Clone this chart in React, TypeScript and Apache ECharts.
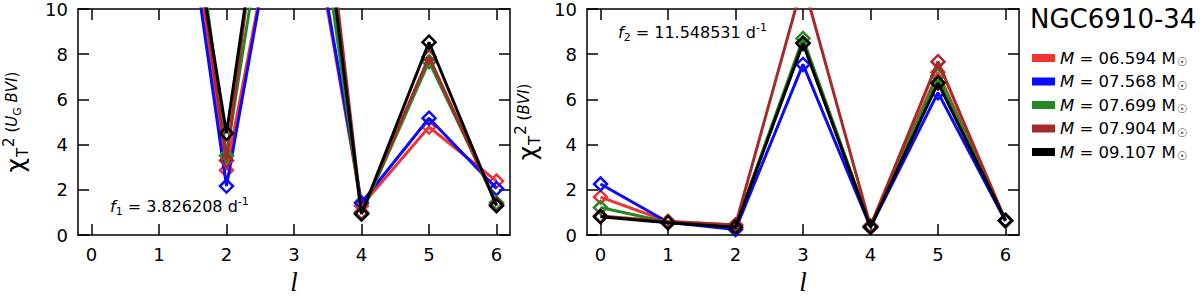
import React, { useEffect, useRef } from 'react';
import * as echarts from 'echarts';

const SANS = 'DejaVu Sans';

// spherical degree l
const degrees = [0, 1, 2, 3, 4, 5, 6];
// stellar masses (legend)
const masses = ['06.594', '07.568', '07.699', '07.904', '09.107'];
const colors = ['#f03434', '#0a0aff', '#238b23', '#a52a2a', '#000000'];

// Panel 1: f1 = 3.826208 d^-1, chi^2 (U_G BVI); null = off scale, unreadable
const f1Red = [null, 23.9, 2.87, 18.5, 1.3, 4.78, 2.39];
const f1Blue = [null, 23.0, 2.17, 18.8, 1.43, 5.17, 2.06];
const f1Green = [null, 26.6, 3.52, 22.5, 0.95, 7.67, 1.43];
const f1Brown = [null, 24.8, 3.3, 27.0, 1.0, 7.88, 1.35];
const f1Black = [null, 23.0, 4.5, 25.0, 0.93, 8.53, 1.3];

// Panel 2: f2 = 11.548531 d^-1, chi^2 (BVI)
const f2Red = [1.68, 0.6, 0.45, 8.5, 0.4, 7.2, 0.65];
const f2Blue = [2.26, 0.57, 0.25, 7.55, 0.35, 6.3, 0.62];
const f2Green = [1.22, 0.57, 0.35, 8.7, 0.38, 7.05, 0.65];
const f2Brown = [0.85, 0.6, 0.45, 11.2, 0.4, 7.67, 0.65];
const f2Black = [0.81, 0.55, 0.35, 8.48, 0.35, 6.73, 0.65];

const panel1 = [f1Red, f1Blue, f1Green, f1Brown, f1Black];
const panel2 = [f2Red, f2Blue, f2Green, f2Brown, f2Black];

const DIAMOND = 'path://M0,-1L1,0L0,1L-1,0Z';

export default function App() {
  const ref = useRef<HTMLDivElement>(null);
  useEffect(() => {
    if (!ref.current) return;
    const chart = echarts.init(ref.current, undefined, { renderer: 'svg' });

    const axisLineStyle = { color: '#000', width: 1.5 };
    const mkX = (grid: number, pos: string, labels: boolean) => ({
      type: 'value',
      gridIndex: grid,
      position: pos,
      min: -0.2,
      max: 6.2,
      axisLine: { show: true, onZero: false, lineStyle: axisLineStyle },
      axisTick: { show: true, inside: true, length: 11, customValues: degrees, lineStyle: axisLineStyle },
      axisLabel: { show: labels, customValues: degrees, margin: 10, fontSize: 18, color: '#000', fontFamily: SANS },
      splitLine: { show: false },
      name: labels ? 'l' : '',
      nameLocation: 'middle',
      nameGap: 30,
      nameTextStyle: { fontFamily: 'Liberation Serif', fontStyle: 'italic', fontSize: 27, color: '#000' },
    });
    const yRich = {
      c: { fontSize: 25, fontFamily: SANS, color: '#000' },
      t: { fontSize: 15, fontFamily: SANS, color: '#000', padding: [14, 0, 0, 1] },
      two: { fontSize: 15, fontFamily: SANS, color: '#000', padding: [0, 0, 14, 1] },
      p: { fontSize: 15, fontFamily: SANS, color: '#000', padding: [0, 0, 8, 0] },
      i: { fontSize: 15, fontFamily: SANS, fontStyle: 'italic', color: '#000', padding: [0, 0, 8, 0] },
      g: { fontSize: 11, fontFamily: SANS, color: '#000', padding: [4, 0, 0, 0] },
    };
    const mkY = (grid: number, pos: string, labels: boolean, name: string, gap: number) => ({
      type: 'value',
      gridIndex: grid,
      position: pos,
      min: 0,
      max: 10,
      interval: 2,
      axisLine: { show: true, onZero: false, lineStyle: axisLineStyle },
      axisTick: { show: true, inside: true, length: 11, lineStyle: axisLineStyle },
      axisLabel: { show: labels, margin: 10, fontSize: 18, color: '#000', fontFamily: SANS },
      splitLine: { show: false },
      name,
      nameLocation: 'middle',
      nameRotate: 90,
      nameGap: gap,
      nameTextStyle: { rich: yRich },
    });

    const series: any[] = [];
    [panel1, panel2].forEach((panel, p) => {
      panel.forEach((vals, k) => {
        series.push({
          type: 'line',
          name: masses[k],
          xAxisIndex: p * 2,
          yAxisIndex: p * 2,
          data: degrees.map((l, i) => [l, vals[i]]),
          color: colors[k],
          symbol: DIAMOND,
          symbolSize: 13,
          showSymbol: true,
          lineStyle: { color: colors[k], width: 3 },
          itemStyle: { color: 'transparent', borderColor: colors[k], borderWidth: 2.5 },
          clip: true,
          z: 2 + k,
        });
      });
    });

    const rich = {
      fi: { fontFamily: SANS, fontStyle: 'italic', fontSize: 16, color: '#000' },
      sub: { fontFamily: SANS, fontSize: 11, color: '#000', padding: [10, 0, 0, 0] },
      sup: { fontFamily: SANS, fontSize: 11, color: '#000', padding: [0, 0, 10, 0] },
      n: { fontFamily: SANS, fontSize: 16, color: '#000' },
    };

    chart.setOption({
      animation: false,
      backgroundColor: '#fff',
      grid: [
        { left: 78, top: 8, width: 432, height: 230 },
        { left: 587, top: 8, width: 432, height: 230 },
      ],
      xAxis: [mkX(0, 'bottom', true), mkX(0, 'top', false), mkX(1, 'bottom', true), mkX(1, 'top', false)],
      yAxis: [
        mkY(0, 'left', true, '{c|χ}{t|T}{two|2}{p| (}{i|U}{g|G}{i| BVI}{p|)}', 48),
        mkY(0, 'right', false, '', 0),
        mkY(1, 'left', true, '{c|χ}{t|T}{two|2}{p| (}{i|BVI}{p|)}', 45),
        mkY(1, 'right', false, '', 0),
      ],
      legend: {
        orient: 'vertical',
        left: 1027,
        top: 43,
        icon: 'rect',
        itemWidth: 23,
        itemHeight: 8,
        itemGap: 3.5,
        data: masses.map((m, k) => ({ name: m, itemStyle: { color: colors[k], borderWidth: 0 } })),
        formatter: (name: string) => `{i|M} = ${name} M{s|☉}`,
        textStyle: {
          fontFamily: SANS,
          fontSize: 16.5,
          color: '#000',
          lineHeight: 20,
          rich: {
            i: { fontFamily: SANS, fontStyle: 'italic', fontSize: 16.5, color: '#000', lineHeight: 20 },
            s: { fontFamily: SANS, fontSize: 12, color: '#444', padding: [8, 0, 0, 1], lineHeight: 20 },
          },
        },
      },
      graphic: [
        {
          type: 'text',
          left: 1030,
          top: 6,
          style: { text: 'NGC6910-34', fontFamily: SANS, fontSize: 26, fill: '#000' },
        },
        {
          type: 'text',
          left: 110,
          top: 196,
          style: { text: '{fi|f}{sub|1}{n| = 3.826208 d}{sup|-1}', rich },
        },
        {
          type: 'text',
          left: 618,
          top: 22,
          style: { text: '{fi|f}{sub|2}{n| = 11.548531 d}{sup|-1}', rich },
        },
      ],
      series,
    });
    return () => chart.dispose();
  }, []);
  return <div ref={ref} style={{ position: 'fixed', left: 0, top: 0, width: 1200, height: 300 }} />;
}
